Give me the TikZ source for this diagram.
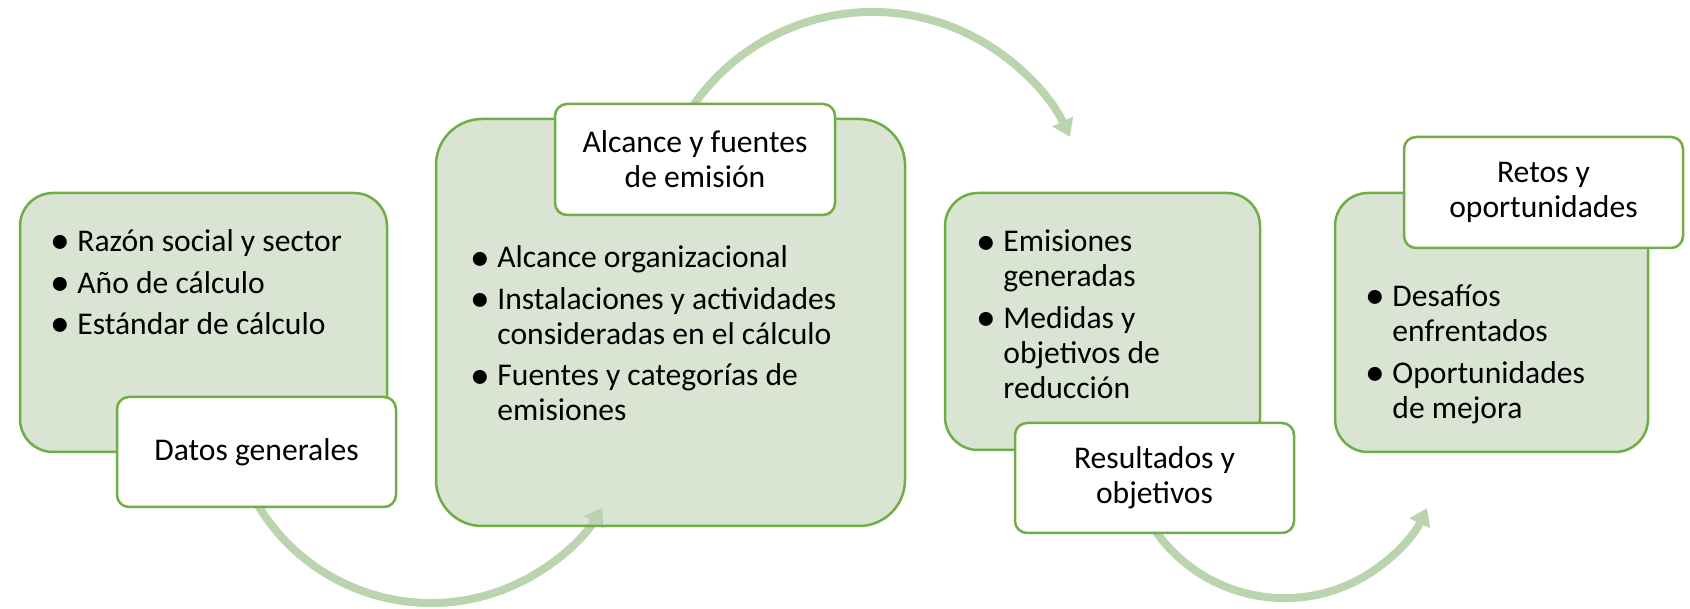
\documentclass[tikz,border=0pt]{standalone}
\usepackage{fontspec}
\setmainfont{Carlito}
\usetikzlibrary{arrows.meta}
\definecolor{boxline}{RGB}{112,173,71}
\definecolor{boxfill}{RGB}{192,210,182}
\definecolor{arrowgreen}{RGB}{186,212,174}
\newcommand\bitem[1]{\hangindent=17pt\hangafter=1\noindent\makebox[17pt][c]{\raisebox{-0.07em}{\scalebox{1.25}{•}}}#1}
\newcommand\igap{\par\vspace{3.25pt}}
\newcommand\bodyfont{\fontsize{15.8}{17.5}\selectfont}
\newcommand\liststart{\raggedright\spaceskip=0pt\xspaceskip=0pt}
\tikzset{
  gbox/.style={draw=boxline, line width=1.25pt, fill=boxfill, fill opacity=0.6, draw opacity=1, text opacity=1},
  lbox/.style={draw=boxline, line width=1.25pt, fill=white, rounded corners=6pt, align=center, font=\bodyfont, inner sep=0pt, minimum width=139.5pt, minimum height=55pt},
  listtext/.style={anchor=base west, inner sep=0pt, text width=260pt, font=\bodyfont},
  arr/.style={draw=arrowgreen, line width=4pt, -{Triangle[width=11pt,length=8.5pt]}}
}
\begin{document}
\begin{tikzpicture}[x=0.5pt,y=0.5pt]
\useasboundingbox (0,0) rectangle (1690,609);
% arrows (behind)
\coordinate (a1s) at ([shift={(431,208)}]205:101pt);
\coordinate (a2s) at ([shift={(872.5,378.4)}]150:109.3pt);
\coordinate (a3s) at ([shift={(1284.6,168.6)}]210:78.85pt);
\draw[arr] (a1s) arc[start angle=205, end angle=328.1, radius=101pt];
\draw[arr] (a2s) arc[start angle=150, end angle=25.4, radius=109.3pt];
\draw[arr] (a3s) arc[start angle=210, end angle=334.6, radius=78.85pt];
% green boxes
\node[gbox, rounded corners=16.5pt, minimum width=183.5pt, minimum height=129.5pt] (b1) at (203.5,286.5) {};
\node[gbox, rounded corners=23pt, minimum width=234.5pt, minimum height=203.5pt] (b2) at (670.5,286.5) {};
\node[gbox, rounded corners=16.5pt, minimum width=157.5pt, minimum height=128.5pt] (b3) at (1102.5,287.5) {};
\node[gbox, rounded corners=16.5pt, minimum width=156.5pt, minimum height=129.5pt] (b4) at (1491.5,286.5) {};
% labels
\node[lbox] (l1) at (256.5,157) {Datos generales};
\node[lbox, minimum width=140pt, minimum height=55.5pt] (l2) at (695,449.5) {Alcance y fuentes\\de emisión};
\node[lbox] (l3) at (1154.5,131) {Resultados y\\objetivos};
\node[lbox, minimum height=55.5pt] (l4) at (1543.5,416.5) {Retos y\\oportunidades};
% lists
\node[listtext] (t1) at (43,357.3) {\liststart\bitem{Razón social y sector}\igap\bitem{Año de cálculo}\igap\bitem{Estándar de cálculo}\par};
\node[listtext] (t2) at (463,341) {\liststart\bitem{Alcance organizacional}\igap\bitem{Instalaciones y actividades\newline consideradas en el cálculo}\igap\bitem{Fuentes y categorías de\newline emisiones}\par};
\node[listtext] (t3) at (969,357) {\liststart\bitem{Emisiones\newline generadas}\igap\bitem{Medidas y\newline objetivos de\newline reducción}\par};
\node[listtext] (t4) at (1358,302.3) {\liststart\bitem{Desafíos\newline enfrentados}\igap\bitem{Oportunidades\newline de mejora}\par};
\end{tikzpicture}
\end{document}
